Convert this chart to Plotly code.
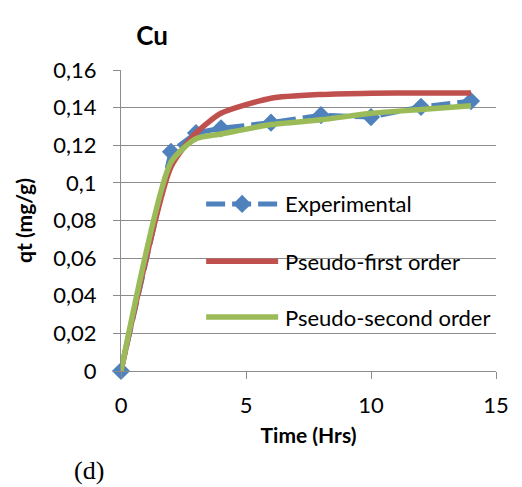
import plotly.graph_objects as go

# Adsorption kinetics of Cu: experimental uptake vs. model fits
time_h = [0, 2, 3, 4, 6, 8, 10, 12, 14]
q_exp = [0, 0.1165, 0.1265, 0.129, 0.132, 0.136, 0.135, 0.1404, 0.1435]
q_pfo = [0, 0.1085, 0.1265, 0.137, 0.145, 0.147, 0.1477, 0.1478, 0.1478]
q_pso = [0, 0.111, 0.1235, 0.126, 0.131, 0.1335, 0.137, 0.139, 0.141]

series_names = ["Experimental", "Pseudo-first order", "Pseudo-second order"]
y_ticks = [0, 0.02, 0.04, 0.06, 0.08, 0.1, 0.12, 0.14, 0.16]
y_tick_text = ["0", "0,02", "0,04", "0,06", "0,08", "0,1", "0,12", "0,14", "0,16"]
x_ticks = [0, 5, 10, 15]

BLUE, RED, GREEN = "#4F81BD", "#C0504D", "#9BBB59"
GRID = "#8C8C8C"
FONT = "Lato"
LW = 5.5

fig = go.Figure()

fig.add_trace(go.Scatter(
    x=time_h, y=q_exp, mode="lines+markers", name=series_names[0],
    line=dict(color=BLUE, width=5, dash="19px,7px"),
    marker=dict(symbol="diamond", size=14, color=BLUE),
    cliponaxis=False, showlegend=False))
fig.add_trace(go.Scatter(
    x=time_h, y=q_pfo, mode="lines", name=series_names[1],
    line=dict(color=RED, width=LW, shape="spline", smoothing=0.6),
    cliponaxis=False, showlegend=False))
fig.add_trace(go.Scatter(
    x=time_h, y=q_pso, mode="lines", name=series_names[2],
    line=dict(color=GREEN, width=LW, shape="spline", smoothing=0.6),
    cliponaxis=False, showlegend=False))

# Legend drawn inside the plot area on an overlay axis spanning [0, 1]
leg_x0, leg_x1, leg_text_x = 0.227, 0.419, 0.433
leg_rows = [0.555, 0.365, 0.179]
leg_styles = [
    dict(color=BLUE, width=5, dash="19px,7px"),
    dict(color=RED, width=LW),
    dict(color=GREEN, width=LW),
]
for name, yy, ls in zip(series_names, leg_rows, leg_styles):
    fig.add_trace(go.Scatter(
        x=[leg_x0, leg_x1], y=[yy, yy], mode="lines", line=ls,
        xaxis="x2", yaxis="y2", showlegend=False, hoverinfo="skip"))
    fig.add_annotation(
        x=leg_text_x, y=yy, xref="x2", yref="y2", text=name,
        showarrow=False, xanchor="left", yanchor="middle",
        font=dict(family=FONT, size=22, color="#000000"))
fig.add_trace(go.Scatter(
    x=[(leg_x0 + leg_x1) / 2], y=[leg_rows[0]], mode="markers",
    marker=dict(symbol="diamond", size=14, color=BLUE),
    xaxis="x2", yaxis="y2", showlegend=False, hoverinfo="skip"))

fig.update_layout(
    width=522, height=487,
    margin=dict(l=121, r=26, t=70, b=116),
    paper_bgcolor="white", plot_bgcolor="white",
    separators=", ",
    showlegend=False,
    title=dict(text="<b>Cu</b>", x=152 / 522, y=1 - 36 / 487,
               xanchor="center", yanchor="middle",
               font=dict(family=FONT, size=26, color="#000000")),
    xaxis=dict(
        range=[0, 15], tickvals=x_ticks, showgrid=False,
        showline=True, linecolor=GRID, linewidth=1,
        ticks="outside", ticklen=7, tickcolor=GRID, tickwidth=1,
        tickfont=dict(family=FONT, size=22, color="#000000"),
        ticklabelstandoff=8,
        title=dict(text="<b>Time (Hrs)</b>", standoff=10,
                   font=dict(family=FONT, size=21, color="#000000")),
        zeroline=False),
    yaxis=dict(
        range=[0, 0.16], tickvals=y_ticks, ticktext=y_tick_text,
        showgrid=True, gridcolor=GRID, gridwidth=1,
        showline=True, linecolor=GRID, linewidth=1,
        ticks="outside", ticklen=7, tickcolor=GRID, tickwidth=1,
        tickfont=dict(family=FONT, size=22, color="#000000"),
        ticklabelstandoff=12,
        title=dict(text="<b>qt (mg/g)</b>", standoff=14,
                   font=dict(family=FONT, size=21, color="#000000")),
        zeroline=False),
    xaxis2=dict(range=[0, 1], overlaying="x", visible=False),
    yaxis2=dict(range=[0, 1], overlaying="y", visible=False),
)

# Panel label below the chart (paper coords are relative to the plot area)
fig.add_annotation(
    x=(89 - 121) / 375, y=(371 - 470) / 301, xref="paper", yref="paper",
    text="(d)", showarrow=False, xanchor="center", yanchor="middle",
    font=dict(family="Liberation Serif", size=26, color="#000000"))

fig.write_html("out.html")
